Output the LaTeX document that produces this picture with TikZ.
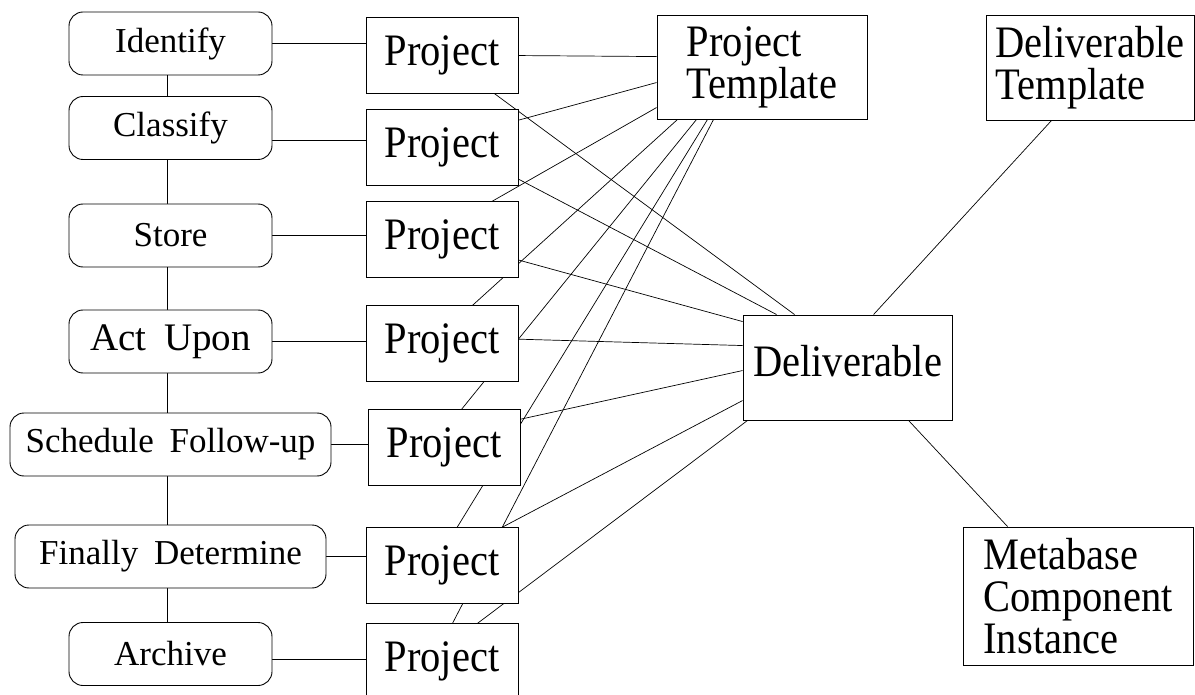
\documentclass[tikz,border=0pt]{standalone}
\usepackage{fontspec}
\setmainfont{Liberation Serif}[WordSpace=1.8]
\newfontfamily\narrowserif{Liberation Serif}[FakeStretch=0.9]
\usetikzlibrary{calc}
\pgfdeclarelayer{paper}
\pgfdeclarelayer{wires}
\pgfsetlayers{paper,wires,main}
\tikzset{
  stage/.style={draw, line width=0.9pt, rounded corners=14pt, fill=white,
    minimum height=63pt, inner sep=0pt, font=\fontsize{35}{40}\selectfont},
  wide/.style={minimum width=203pt},
  project/.style={draw, line width=0.9pt, fill=white, inner sep=0pt,
    minimum width=152pt, minimum height=76pt,
    font=\narrowserif\fontsize{45}{42}\selectfont},
  entity/.style={draw, line width=0.9pt, fill=white, inner sep=0pt, align=left,
    font=\narrowserif\fontsize{45}{42}\selectfont},
  link/.style={line width=0.7pt},
}
\begin{document}
\begin{tikzpicture}[x=1pt,y=-1pt]
\useasboundingbox (0,0) rectangle (1195,695);
\begin{pgfonlayer}{paper}
  \fill[white] (0,0) rectangle (1195,695);
\end{pgfonlayer}

% life-cycle stages
\node[stage, wide] (identify) at (170.5,43.5) {Identify};
\node[stage, wide] (classify) at (170.5,128) {Classify};
\node[stage, wide] (store) at (170.5,235.5) {Store};
\node[stage, wide, font=\fontsize{39}{44}\selectfont] (actupon) at (170.5,341.5) {Act Upon};
\node[stage, minimum width=321pt] (schedule) at (170.5,444.5) {Schedule Follow-up};
\node[stage, minimum width=311pt] (finally) at (170.5,556.5) {Finally Determine};
\node[stage, wide] (archive) at (170.5,654) {Archive};

% projects
\node[project] (p1) at (442,55) {Project};
\node[project] (p2) at (442,147) {Project};
\node[project] (p3) at (442,239) {Project};
\node[project] (p4) at (442,343) {Project};
\node[project] (p5) at (444,447) {Project};
\node[project] (p6) at (442,565) {Project};
\node[project] (p7) at (442,661) {Project};

% entities
\node[entity, minimum width=210pt, minimum height=104pt] (pt) at (762,67) {Project\\Template};
\node[entity, minimum width=208pt, minimum height=105pt] (dt) at (1090,67.5) {Deliverable\\Template};
\node[entity, minimum width=209pt, minimum height=105pt, text depth=14pt] (deliv) at (847.5,367.5) {Deliverable};
\node[entity, minimum width=230pt, minimum height=138pt] (meta) at (1078,596) {Metabase\\Component\\Instance};

\begin{pgfonlayer}{wires}
  % stage chain
  \foreach \a/\b in {identify/classify, classify/store, store/actupon,
                     actupon/schedule, schedule/finally, finally/archive}
    \draw[line width=0.9pt] ($(\a.south)+(-3,0)$) -- ($(\b.north)+(-3,0)$);

  % stage to project
  \draw[link] (identify.east) -- (identify.east -| p1.west);
  \draw[link] ($(classify.east)+(0,12)$) -- ($(classify.east -| p2.west)+(0,12)$);
  \draw[link] (store.east) -- (store.east -| p3.west);
  \draw[link] (actupon.east) -- (actupon.east -| p4.west);
  \draw[link] (schedule.east) -- (schedule.east -| p5.west);
  \draw[link] (finally.east) -- (finally.east -| p6.west);
  \draw[link] ($(archive.east)+(0,5)$) -- ($(archive.east -| p7.west)+(0,5)$);

  % project to project template
  \draw[link] (p1.center) -- ($(pt.north west)+(0,42)$);
  \draw[link] ($(p2.center)+(0,-6)$) -- ($(pt.north west)+(0,68)$);
  \draw[link] ($(p3.center)+(-16,0)$) -- ($(pt.north west)+(0,93)$);
  \draw[link] ($(p4.center)+(-11,0)$) -- ($(pt.south west)+(21,0)$);
  \draw[link] ($(p5.center)+(-13,0)$) -- ($(pt.south west)+(40,0)$);
  \draw[link] ($(p6.center)+(-8,0)$) -- ($(pt.south west)+(51,0)$);
  \draw[link] ($(p7.center)+(-9,0)$) -- ($(pt.south west)+(57,0)$);

  % project to deliverable
  \draw[link] (p1.center) -- ($(deliv.north west)+(52,0)$);
  \draw[link] ($(p2.center)+(0,-8)$) -- ($(deliv.north west)+(34,0)$);
  \draw[link] (p3.center) -- ($(deliv.north west)+(0,7)$);
  \draw[link] ($(p4.center)+(0,-6)$) -- ($(deliv.north west)+(0,31)$);
  \draw[link] ($(p5.center)+(0,-11)$) -- ($(deliv.north west)+(0,56)$);
  \draw[link] ($(p6.center)+(0,-6)$) -- ($(deliv.north west)+(0,86)$);
  \draw[link] ($(p7.center)+(0,-11)$) -- ($(deliv.south west)+(5,0)$);

  % deliverable to its template and to the metabase instance
  \draw[link] ($(deliv.north west)+(131,0)$) -- ($(dt.south west)+(66,0)$);
  \draw[link] ($(deliv.south west)+(166,0)$) -- ($(meta.north west)+(45,0)$);
\end{pgfonlayer}
\end{tikzpicture}
\end{document}
